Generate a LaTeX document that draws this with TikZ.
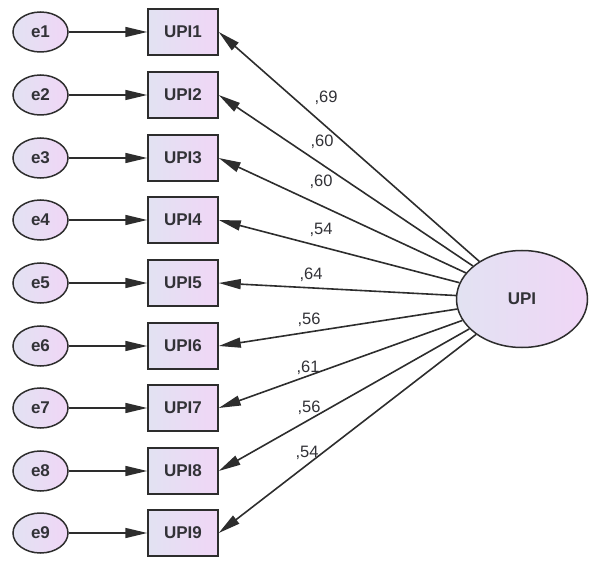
\documentclass[tikz,border=0pt]{standalone}
\usepackage{fontspec}
\setmainfont{Liberation Sans}
\usetikzlibrary{arrows.meta,shapes.geometric}
\definecolor{fillL}{RGB}{226,226,242}
\definecolor{fillR}{RGB}{240,214,246}
\definecolor{edge}{RGB}{45,45,45}
\definecolor{txt}{RGB}{50,50,55}
\tikzset{
  errnode/.style={ellipse, draw=edge, line width=1.5pt, left color=fillL, right color=fillR,
    minimum width=55pt, minimum height=40pt, inner sep=0pt, text=txt,
    font=\fontsize{17}{19}\selectfont\bfseries},
  obsbox/.style={rectangle, draw=edge, line width=1.5pt, left color=fillL, right color=fillR,
    minimum width=70pt, minimum height=46pt, inner sep=0pt, text=txt,
    font=\fontsize{17}{19}\selectfont\bfseries},
  latent/.style={ellipse, draw=edge, line width=1.5pt, left color=fillL, right color=fillR,
    minimum width=131pt, minimum height=97pt, inner sep=0pt, text=txt,
    font=\fontsize{17}{19}\selectfont\bfseries},
  conn/.style={draw=edge, line width=1.6pt, -{Triangle[length=22pt,width=10pt]}},
  lab/.style={text=txt, inner sep=0pt, font=\fontsize{16.5}{18}\selectfont}
}
\begin{document}
\begin{tikzpicture}[x=1pt,y=-1pt]
\useasboundingbox (0,0) rectangle (589,561);
\foreach \i/\y in {1/32,2/95,3/158,4/220,5/283,6/346,7/408,8/471,9/533}{
  \node[errnode] (e\i) at (40.5,\y) {e\i};
  \node[obsbox] (u\i) at (183,\y) {UPI\i};
  \draw[conn] (e\i) -- (u\i);
}
\node[latent] (upi) at (522,299) {UPI};
\foreach \i in {1,...,9}{
  \draw[conn] (upi) -- (u\i.east);
}
\node[lab] (l1) at (326,98) {,69};
\node[lab] (l2) at (322,142) {,60};
\node[lab] (l3) at (321,182) {,60};
\node[lab] (l4) at (321,230) {,54};
\node[lab] (l5) at (311,275) {,64};
\node[lab] (l6) at (309,320) {,56};
\node[lab] (l7) at (308,368) {,61};
\node[lab] (l8) at (309,408) {,56};
\node[lab] (l9) at (307,453) {,54};
\end{tikzpicture}
\end{document}
